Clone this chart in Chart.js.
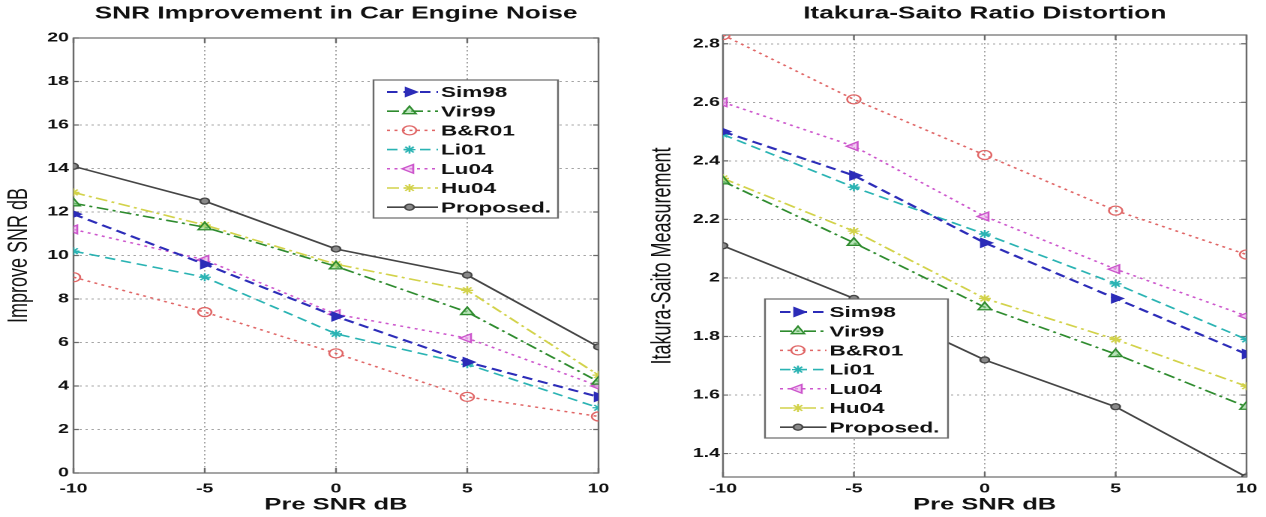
<!DOCTYPE html>
<html>
<head>
<meta charset="utf-8">
<script src="https://cdn.jsdelivr.net/npm/chart.js@4.4.1/dist/chart.umd.min.js"></script>
<style>
  html, body { margin: 0; padding: 0; background: #fff; }
  body { width: 1266px; height: 517px; position: relative; overflow: hidden; }
  /* the source figure is stretched sideways, so each panel is drawn narrow and scaled */
  .panel { position: absolute; top: 0; height: 517px; transform-origin: 0 0; transform: scaleX(1.5); }
  #leftPanel { left: 0; width: 420px; }
  #rightPanel { left: 633px; width: 422px; }
</style>
</head>
<body>
<div class="panel" id="leftPanel"><canvas id="snrChart"></canvas></div>
<div class="panel" id="rightPanel"><canvas id="isChart"></canvas></div>
<script>
const preSnr = [-10, -5, 0, 5, 10];
const methods = ["Sim98", "Vir99", "B&R01", "Li01", "Lu04", "Hu04", "Proposed."];

// SNR improvement in car engine noise (dB)
const snrSim98 = [11.9, 9.6, 7.2, 5.1, 3.5];
const snrVir99 = [12.4, 11.3, 9.5, 7.4, 4.2];
const snrBR01 = [9.0, 7.4, 5.5, 3.5, 2.6];
const snrLi01 = [10.2, 9.0, 6.4, 5.0, 3.0];
const snrLu04 = [11.2, 9.8, 7.3, 6.2, 4.0];
const snrHu04 = [12.9, 11.4, 9.6, 8.4, 4.5];
const snrProposed = [14.1, 12.5, 10.3, 9.1, 5.8];
const snrTicks = [0, 2, 4, 6, 8, 10, 12, 14, 16, 18, 20];

// Itakura-Saito ratio distortion
const isSim98 = [2.50, 2.35, 2.12, 1.93, 1.74];
const isVir99 = [2.33, 2.12, 1.90, 1.74, 1.56];
const isBR01 = [2.83, 2.61, 2.42, 2.23, 2.08];
const isLi01 = [2.49, 2.31, 2.15, 1.98, 1.79];
const isLu04 = [2.60, 2.45, 2.21, 2.03, 1.87];
const isHu04 = [2.34, 2.16, 1.93, 1.79, 1.63];
const isProposed = [2.11, 1.93, 1.72, 1.56, 1.32];
const isTicks = [1.4, 1.6, 1.8, 2.0, 2.2, 2.4, 2.6, 2.8];

Chart.defaults.font.family = "'Liberation Sans', Arial, sans-serif";

const styles = [
    { color: "#2c2cb8", fill: "#2c2cb8", dash: [7, 4], width: 2, point: "triangle", rot: 90, r: 5 },
    { color: "#2e8b2e", fill: "rgba(140,210,140,0.6)", dash: [8, 3, 2, 3], width: 1.6, point: "triangle", rot: 0, r: 5 },
    { color: "#e06666", fill: "rgba(255,255,255,0)", dash: [2, 3], width: 1.5, point: "circle", rot: 0, r: 4.5 },
    { color: "#2ab3b3", fill: "#2ab3b3", dash: [7, 4], width: 1.6, point: "star", rot: 0, r: 4 },
    { color: "#cc55cc", fill: "rgba(235,170,235,0.6)", dash: [2, 3], width: 1.5, point: "triangle", rot: 270, r: 5 },
    { color: "#d2d24a", fill: "#d2d24a", dash: [8, 3, 2, 3], width: 1.6, point: "star", rot: 0, r: 4 },
    { color: "#454545", fill: "#8a8a8a", dash: [], width: 1.6, point: "circle", rot: 0, r: 3 }
];

function makeDatasets(series) {
    return series.map((values, i) => ({
        label: methods[i],
        data: values.map((v, j) => ({ x: preSnr[j], y: v })),
        borderColor: styles[i].color,
        backgroundColor: styles[i].fill,
        borderWidth: styles[i].width,
        borderDash: styles[i].dash,
        pointStyle: styles[i].point,
        rotation: styles[i].rot,
        pointRadius: styles[i].r,
        pointBorderColor: styles[i].color,
        pointBackgroundColor: styles[i].fill,
        pointBorderWidth: 1.3,
        tension: 0
    }));
}

// box around the plot plus inward tick marks, like a MATLAB axes
const matlabFrame = {
    id: "matlabFrame",
    beforeDatasetsDraw(chart) {
        const { ctx, chartArea: a, scales } = chart;
        ctx.save();
        ctx.setLineDash([]);
        ctx.strokeStyle = "#6a6a6a";
        ctx.lineWidth = 1.2;
        ctx.strokeRect(a.left, a.top, a.right - a.left, a.bottom - a.top);
        ctx.beginPath();
        scales.x.ticks.forEach(t => {
            const px = scales.x.getPixelForValue(t.value);
            ctx.moveTo(px, a.bottom); ctx.lineTo(px, a.bottom - 5);
            ctx.moveTo(px, a.top); ctx.lineTo(px, a.top + 5);
        });
        scales.y.ticks.forEach(t => {
            const py = scales.y.getPixelForValue(t.value);
            ctx.moveTo(a.left, py); ctx.lineTo(a.left + 3.5, py);
            ctx.moveTo(a.right, py); ctx.lineTo(a.right - 3.5, py);
        });
        ctx.stroke();
        ctx.restore();
    }
};

const boxLegend = {
    id: "boxLegend",
    afterDraw(chart, args, o) {
        const ctx = chart.ctx;
        ctx.save();
        ctx.setLineDash([]);
        ctx.fillStyle = "#fff";
        ctx.fillRect(o.x, o.y, o.w, o.h);
        ctx.strokeStyle = "#6a6a6a";
        ctx.lineWidth = 1.2;
        ctx.strokeRect(o.x, o.y, o.w, o.h);
        chart.data.datasets.forEach((ds, i) => {
            const y = o.row0 + i * o.gap;
            ctx.strokeStyle = ds.borderColor;
            ctx.lineWidth = ds.borderWidth;
            ctx.setLineDash(ds.borderDash);
            ctx.beginPath();
            ctx.moveTo(o.lineX0, y);
            ctx.lineTo(o.lineX1, y);
            ctx.stroke();
            ctx.setLineDash([]);
            ctx.fillStyle = ds.pointBackgroundColor;
            ctx.strokeStyle = ds.pointBorderColor;
            ctx.lineWidth = ds.pointBorderWidth;
            Chart.helpers.drawPoint(ctx, {
                pointStyle: ds.pointStyle, rotation: ds.rotation,
                radius: ds.pointRadius, borderWidth: ds.pointBorderWidth
            }, o.markX, y);
            ctx.fillStyle = "#111";
            ctx.font = "bold 15px 'Liberation Sans', Arial, sans-serif";
            ctx.textBaseline = "middle";
            ctx.fillText(ds.label, o.textX, y + 1);
        });
        ctx.restore();
    }
};

function makeChart(canvasId, series, cfg) {
    const ctx = document.getElementById(canvasId).getContext("2d");
    const config = {
        type: "line",
        data: { datasets: makeDatasets(series) },
        options: {
            responsive: true,
            maintainAspectRatio: false,
            devicePixelRatio: 2,
            animation: false,
            layout: { padding: { left: 0, right: cfg.padRight, top: 0, bottom: 0 } },
            plugins: {
                legend: { display: false },
                tooltip: { enabled: false },
                title: {
                    display: true,
                    fullSize: false,
                    text: cfg.title,
                    color: "#111",
                    font: { size: 17.5, weight: "bold" },
                    padding: { top: 3, bottom: cfg.titleGap }
                },
                boxLegend: cfg.legend
            },
            scales: {
                x: {
                    type: "linear",
                    min: -10,
                    max: 10,
                    ticks: { stepSize: 5, padding: cfg.xTickPad, color: "#111", font: { size: 13, weight: "bold" } },
                    grid: { color: "#a4a4a4", lineWidth: 1, drawTicks: false },
                    border: { display: false, dash: [1.5, 2.5] },
                    title: { display: true, text: "Pre SNR dB", color: "#111", font: { size: 17, weight: "bold" }, padding: { top: 0, bottom: 2 } },
                    afterFit: (scale) => { scale.height = cfg.xHeight; }
                },
                y: {
                    type: "linear",
                    min: cfg.yMin,
                    max: cfg.yMax,
                    afterBuildTicks: (axis) => { axis.ticks = cfg.yTicks.map(v => ({ value: v })); },
                    ticks: {
                        padding: cfg.yTickPad,
                        color: "#111",
                        font: { size: 13, weight: "bold" },
                        callback: (v) => String(+Number(v).toFixed(1))
                    },
                    grid: { color: "#a4a4a4", lineWidth: 1, drawTicks: false },
                    border: { display: false, dash: [1.5, 2.5] },
                    title: { display: true, text: cfg.yTitle, color: "#111", font: { size: 18 }, padding: { top: cfg.yTitlePad, bottom: 0 } },
                    afterFit: (scale) => { scale.width = cfg.yWidth; }
                }
            }
        },
        plugins: [matlabFrame, boxLegend]
    };
    return new Chart(ctx, config);
}

makeChart("snrChart",
    [snrSim98, snrVir99, snrBR01, snrLi01, snrLu04, snrHu04, snrProposed],
    {
        title: "SNR Improvement in Car Engine Noise",
        yTitle: "Improve SNR dB",
        yMin: 0, yMax: 20, yTicks: snrTicks,
        padRight: 21, titleGap: 14, xHeight: 44, xTickPad: 8,
        yWidth: 49, yTickPad: 3, yTitlePad: 2,
        legend: { x: 249, y: 80, w: 123, h: 138, row0: 92, gap: 19.2, lineX0: 258, lineX1: 292, markX: 273, textX: 294 }
    });

makeChart("isChart",
    [isSim98, isVir99, isBR01, isLi01, isLu04, isHu04, isProposed],
    {
        title: "Itakura-Saito Ratio Distortion",
        yTitle: "Itakura-Saito Measurement",
        yMin: 1.32, yMax: 2.83, yTicks: isTicks,
        padRight: 13, titleGap: 11, xHeight: 40, xTickPad: 4,
        yWidth: 60, yTickPad: 2, yTitlePad: 9,
        legend: { x: 88, y: 299, w: 122, h: 139, row0: 312, gap: 19.2, lineX0: 98, lineX1: 129, markX: 110, textX: 131 }
    });
</script>
</body>
</html>
